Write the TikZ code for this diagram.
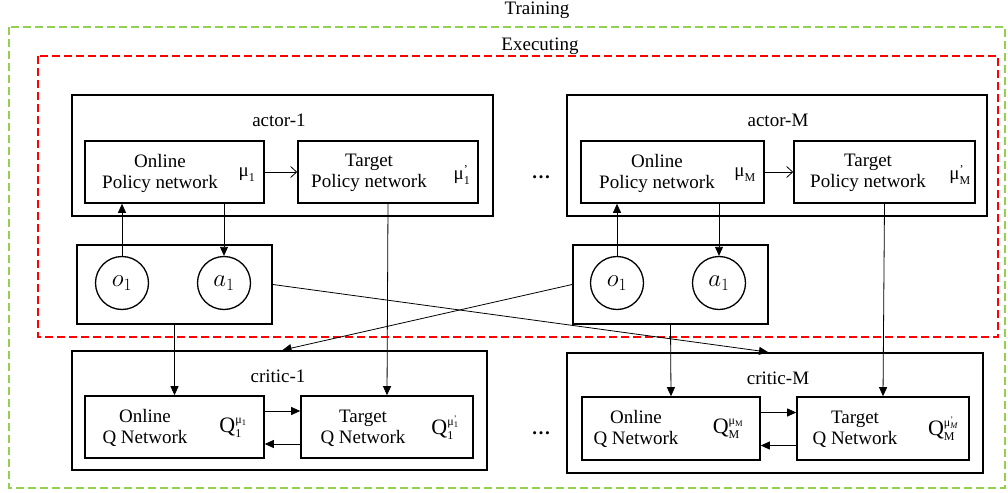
\documentclass[tikz,border=0pt]{standalone}
\usepackage{amsmath}
\usepackage{fontspec}
\setmainfont{Liberation Serif}
\usetikzlibrary{arrows.meta,fit}
\newcommand{\smallfs}{\fontsize{12}{12}\selectfont}
\newcommand{\tinyfs}{\fontsize{8.5}{8.5}\selectfont}
% symbol with superscript (#2) and subscript (#3)
\newcommand{\symss}[3]{$\text{#1}^{\text{\smallfs #2}}_{\text{\smallfs #3}}$}
\begin{document}
\begin{tikzpicture}[x=1pt,y=-1pt, font=\fontsize{19}{21}\selectfont,
  frame/.style={draw, line width=1.8pt, inner sep=0pt},
  box/.style={draw, line width=1.6pt, inner sep=0pt},
  circ/.style={draw, circle, line width=1.3pt, minimum size=53pt, inner sep=0pt, font=\fontsize{24}{24}\selectfont},
  arr/.style={-{Triangle[length=9pt,width=8pt]}, line width=0.8pt},
  barb/.style={-{Straight Barb[length=6pt,width=11pt]}, line width=0.8pt},
  lbl/.style={align=center, inner sep=0pt},
  qlbl/.style={inner sep=0pt, font=\fontsize{22}{22}\selectfont},
  gdash/.style={draw=greenline, line width=1.6pt, dash pattern=on 8pt off 4pt},
  rdash/.style={draw=red, line width=1.6pt, dash pattern=on 8pt off 4pt}]
\definecolor{greenline}{RGB}{146,208,80}
\useasboundingbox (0,0) rectangle (1008,492);
% dashed regions
\draw[gdash] (9,27) rectangle (1005,488);
\node[lbl] (training) at (537,10) {Training};
\draw[rdash] (38,56) rectangle (998,337);
\node[lbl] (executing) at (540,46) {Executing};

% ---------- actor-1 ----------
\node[frame, fit={(72,95)(493,216)}] (actA) {};
\node[lbl] (tActA) at (279,120) {actor-1};
\node[box, fit={(85,141)(264,203)}] (onA) {};
\node[lbl] at (160,173) {Online\\Policy network};
\node[lbl] at (247,175) {\symss{μ}{}{1}};
\node[box, fit={(298,141)(478,203)}] (tgA) {};
\node[lbl] at (369,173) {Target\\Policy network};
\node[lbl] at (462,175) {\symss{μ}{'}{1}};

% ---------- actor-M ----------
\node[frame, fit={(567,95)(987,216)}] (actM) {};
\node[lbl] (tActM) at (778,120) {actor-M};
\node[box, fit={(581,141)(764,203)}] (onM) {};
\node[lbl] at (657,173) {Online\\Policy network};
\node[lbl] at (745,175) {\symss{μ}{}{M}};
\node[box, fit={(794,141)(975,203)}] (tgM) {};
\node[lbl] at (868,173) {Target\\Policy network};
\node[lbl] at (960,175) {\symss{μ}{'}{M}};

\node[lbl] (dotsA) at (541,177) {\textbf{…}};
\node[lbl] (dotsC) at (541,433) {\textbf{…}};

% ---------- observation boxes ----------
\node[frame, fit={(77,245)(272,324)}] (obsA) {};
\node[circ] (o1A) at (122,283) {$o_1$};
\node[circ] (a1A) at (224,283) {$a_1$};
\node[frame, fit={(573,245)(768,324)}] (obsM) {};
\node[circ] (o1M) at (617,283) {$o_1$};
\node[circ] (a1M) at (719,283) {$a_1$};

% ---------- critic-1 ----------
\node[frame, fit={(72,351)(487,470)}] (critA) {};
\node[lbl] (tCritA) at (278,376) {critic-1};
\node[box, fit={(85,396)(264,458)}] (oqA) {};
\node[lbl] at (145,428) {Online\\Q Network};
\node[qlbl] at (233,428) {\symss{Q}{μ\raisebox{-0.35ex}{\tinyfs 1}}{1}};
\node[box, fit={(301,396)(473,458)}] (tqA) {};
\node[lbl] at (363,428) {Target\\Q Network};
\node[qlbl] at (445,428) {\symss{Q}{μ\makebox[0pt][l]{\raisebox{0.7ex}{\tinyfs '}}\raisebox{-0.35ex}{\tinyfs 1}}{1}};

% ---------- critic-M ----------
\node[frame, fit={(567,353)(983,473)}] (critM) {};
\node[lbl] (tCritM) at (778,378) {critic-M};
\node[box, fit={(582,397)(760,460)}] (oqM) {};
\node[lbl] at (636,429) {Online\\Q Network};
\node[qlbl] at (728,429) {\symss{Q}{μ\raisebox{-0.35ex}{\tinyfs M}}{M}};
\node[box, fit={(797,397)(969,460)}] (tqM) {};
\node[lbl] at (855,429) {Target\\Q Network};
\node[qlbl] at (943,429) {\symss{Q}{μ\makebox[0pt][l]{\raisebox{0.7ex}{\tinyfs '}}\raisebox{-0.35ex}{\tinyfs\itshape M}}{M}};

% ---------- connectors ----------
\draw[arr] (o1A.north) -- (o1A.north |- onA.south);
\draw[arr] (onA.south -| a1A.north) -- (a1A.north);
\draw[barb] (onA.east) -- (tgA.west);
\draw[arr] (tgA.south) -- (tqA.north);
\draw[arr] (obsA.south) -- (oqA.north);
\draw[arr] ([yshift=16pt]oqA.east) -- ([yshift=16pt]tqA.west);
\draw[arr] ([yshift=-17pt]tqA.west) -- ([yshift=-17pt]oqA.east);

\draw[arr] (o1M.north) -- (o1M.north |- onM.south);
\draw[arr] (onM.south -| a1M.north) -- (a1M.north);
\draw[barb] (onM.east) -- (tgM.west);
\draw[arr] (tgM.south) -- (tqM.north);
\draw[arr] (obsM.south) -- (oqM.north);
\draw[arr] ([yshift=16pt]oqM.east) -- ([yshift=16pt]tqM.west);
\draw[arr] ([yshift=-17pt]tqM.west) -- ([yshift=-17pt]oqM.east);

\draw[arr] (obsA.east) -- ([xshift=-7pt]critM.north);
\draw[arr] (obsM.west) -- ([xshift=3pt]critA.north);
\end{tikzpicture}
\end{document}
